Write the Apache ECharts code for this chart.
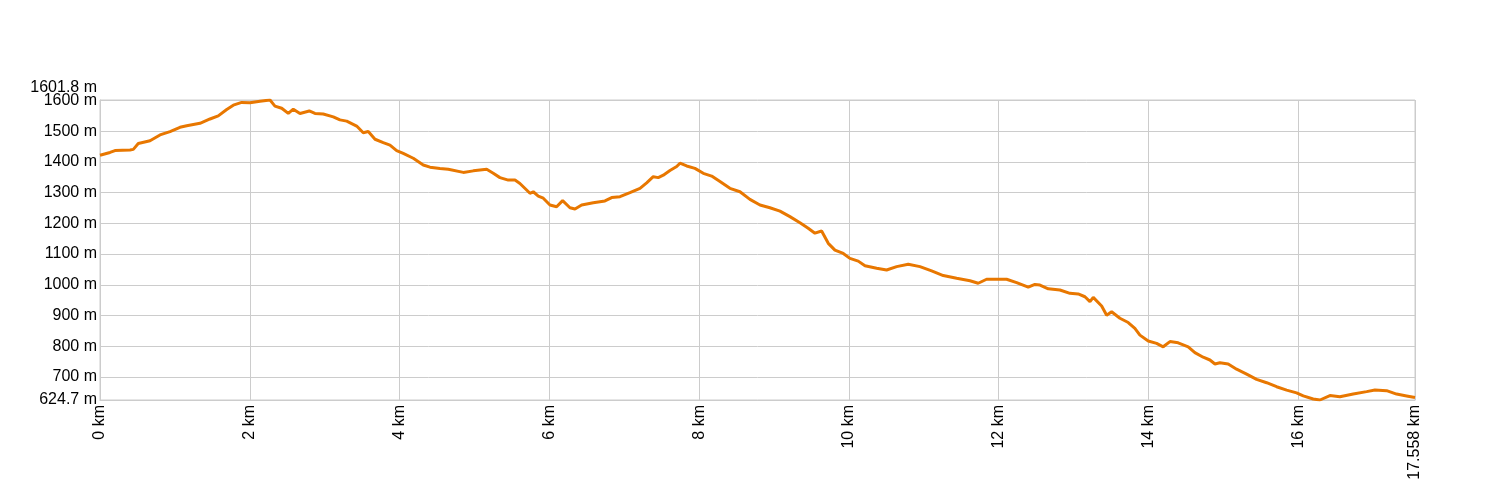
<!DOCTYPE html>
<html>
<head>
<meta charset="utf-8">
<script src="https://cdn.jsdelivr.net/npm/echarts@6/dist/echarts.min.js"></script>
<style>html,body{margin:0;padding:0;background:#fff}#c{width:1500px;height:500px}</style>
</head>
<body>
<div id="c"></div>
<script>
// distance along track (km)
const distKm = [0,0.134,0.200,0.401,0.445,0.511,0.668,0.801,0.935,1.068,1.158,1.335,1.469,1.579,1.692,1.780,1.892,2.003,2.136,2.270,2.336,2.426,2.514,2.581,2.670,2.794,2.870,2.981,3.115,3.204,3.294,3.427,3.515,3.582,3.672,3.782,3.872,3.961,4.049,4.183,4.316,4.406,4.539,4.650,4.851,4.984,5.163,5.251,5.340,5.451,5.541,5.607,5.741,5.785,5.852,5.919,6.008,6.097,6.177,6.275,6.342,6.431,6.586,6.742,6.832,6.943,7.076,7.210,7.299,7.387,7.454,7.521,7.610,7.700,7.744,7.833,7.944,8.055,8.167,8.278,8.411,8.545,8.678,8.812,8.945,9.079,9.212,9.346,9.456,9.546,9.635,9.724,9.813,9.924,10.013,10.124,10.214,10.370,10.503,10.637,10.792,10.948,11.104,11.259,11.438,11.616,11.726,11.838,12.105,12.239,12.394,12.483,12.550,12.661,12.817,12.951,13.061,13.151,13.218,13.262,13.374,13.441,13.507,13.618,13.729,13.818,13.885,13.996,14.108,14.196,14.286,14.396,14.530,14.619,14.730,14.820,14.887,14.953,15.064,15.176,15.310,15.443,15.577,15.710,15.844,15.977,16.066,16.199,16.289,16.422,16.555,16.733,16.912,17.023,17.179,17.312,17.446,17.558];
// elevation (m)
const elevM = [1422,1431,1437,1439,1441,1460,1469,1488,1499,1513,1518,1526,1540,1550,1571,1585,1594,1593,1598,1601.8,1582,1575,1558,1572,1558,1566,1558,1556,1547,1537,1533,1517,1495,1499,1474,1463,1455,1437,1428,1412,1390,1383,1379,1376,1366,1371,1376,1363,1349,1341,1341,1330,1298,1303,1289,1282,1260,1254,1274,1251,1247,1260,1267,1273,1284,1287,1300,1314,1332,1352,1349,1357,1372,1385,1396,1387,1379,1363,1354,1336,1314,1303,1278,1260,1251,1240,1222,1202,1184,1168,1175,1135,1113,1102,1086,1077,1062,1054,1048,1059,1067,1059,1045,1030,1021,1013,1005,1018,1018,1007,992,1001,999,987,983,972,970,961,945,959,931,901,912,891,877,858,836,817,809,798,815,811,798,779,764,755,742,746,742,725,709,692,681,668,657,648,638,628,624.7,639,635,644,652,657,655,644,638,633];
// tick values shown on the axes
const xTicks = [0, 2, 4, 6, 8, 10, 12, 14, 16, 17.558];
const yTicks = [624.7, 700, 800, 900, 1000, 1100, 1200, 1300, 1400, 1500, 1600];
const xMax = 17.558;
const yMin = 624.7;
const yMax = 1601.8;

const chart = echarts.init(document.getElementById('c'), null, {renderer: 'canvas'});
const seriesData = distKm.map((d, i) => [d, elevM[i]]);
const fmtNum = v => String(Math.round(v * 1000) / 1000);
const FONT = 'Liberation Sans, Arial, sans-serif';
chart.setOption({
  animation: false,
  backgroundColor: '#ffffff',
  grid: {left: 100, right: 85, top: 100, bottom: 100, show: true, borderColor: '#cccccc', borderWidth: 1},
  xAxis: {
    type: 'value', min: 0, max: xMax,
    axisLine: {show: true, lineStyle: {color: '#cccccc'}},
    axisTick: {show: false, customValues: xTicks},
    splitLine: {show: true, lineStyle: {color: '#cccccc', width: 1}},
    axisLabel: {
      customValues: xTicks,
      rotate: 90, margin: 5, fontSize: 16, color: '#000000', fontFamily: FONT,
      showMinLabel: true, showMaxLabel: true,
      formatter: v => fmtNum(v) + ' km'
    }
  },
  yAxis: [{
    type: 'value', min: yMin, max: yMax, position: 'left',
    axisLine: {show: true, lineStyle: {color: '#cccccc'}},
    axisTick: {show: false, customValues: yTicks},
    splitLine: {show: true, lineStyle: {color: '#cccccc', width: 1}},
    axisLabel: {
      customValues: yTicks,
      margin: 3, fontSize: 16, color: '#000000', fontFamily: FONT,
      showMinLabel: true, showMaxLabel: true,
      formatter: v => fmtNum(v) + ' m'
    }
  }, {
    type: 'value', min: yMin, max: yMax, position: 'left', offset: 0,
    axisLine: {show: false},
    axisTick: {show: false, customValues: [yMax]},
    splitLine: {show: false},
    axisLabel: {
      customValues: [yMax],
      margin: 3, fontSize: 16, color: '#000000', fontFamily: FONT,
      showMinLabel: true, showMaxLabel: true,
      formatter: v => '{top|' + fmtNum(v) + ' m}',
      rich: {top: {fontSize: 16, color: '#000000', fontFamily: FONT, padding: [0, 0, 25, 0]}}
    }
  }],
  series: [{
    type: 'line', data: seriesData, showSymbol: false, symbol: 'none',
    lineStyle: {color: '#e87700', width: 3}, z: 5
  }]
});
</script>
</body>
</html>
